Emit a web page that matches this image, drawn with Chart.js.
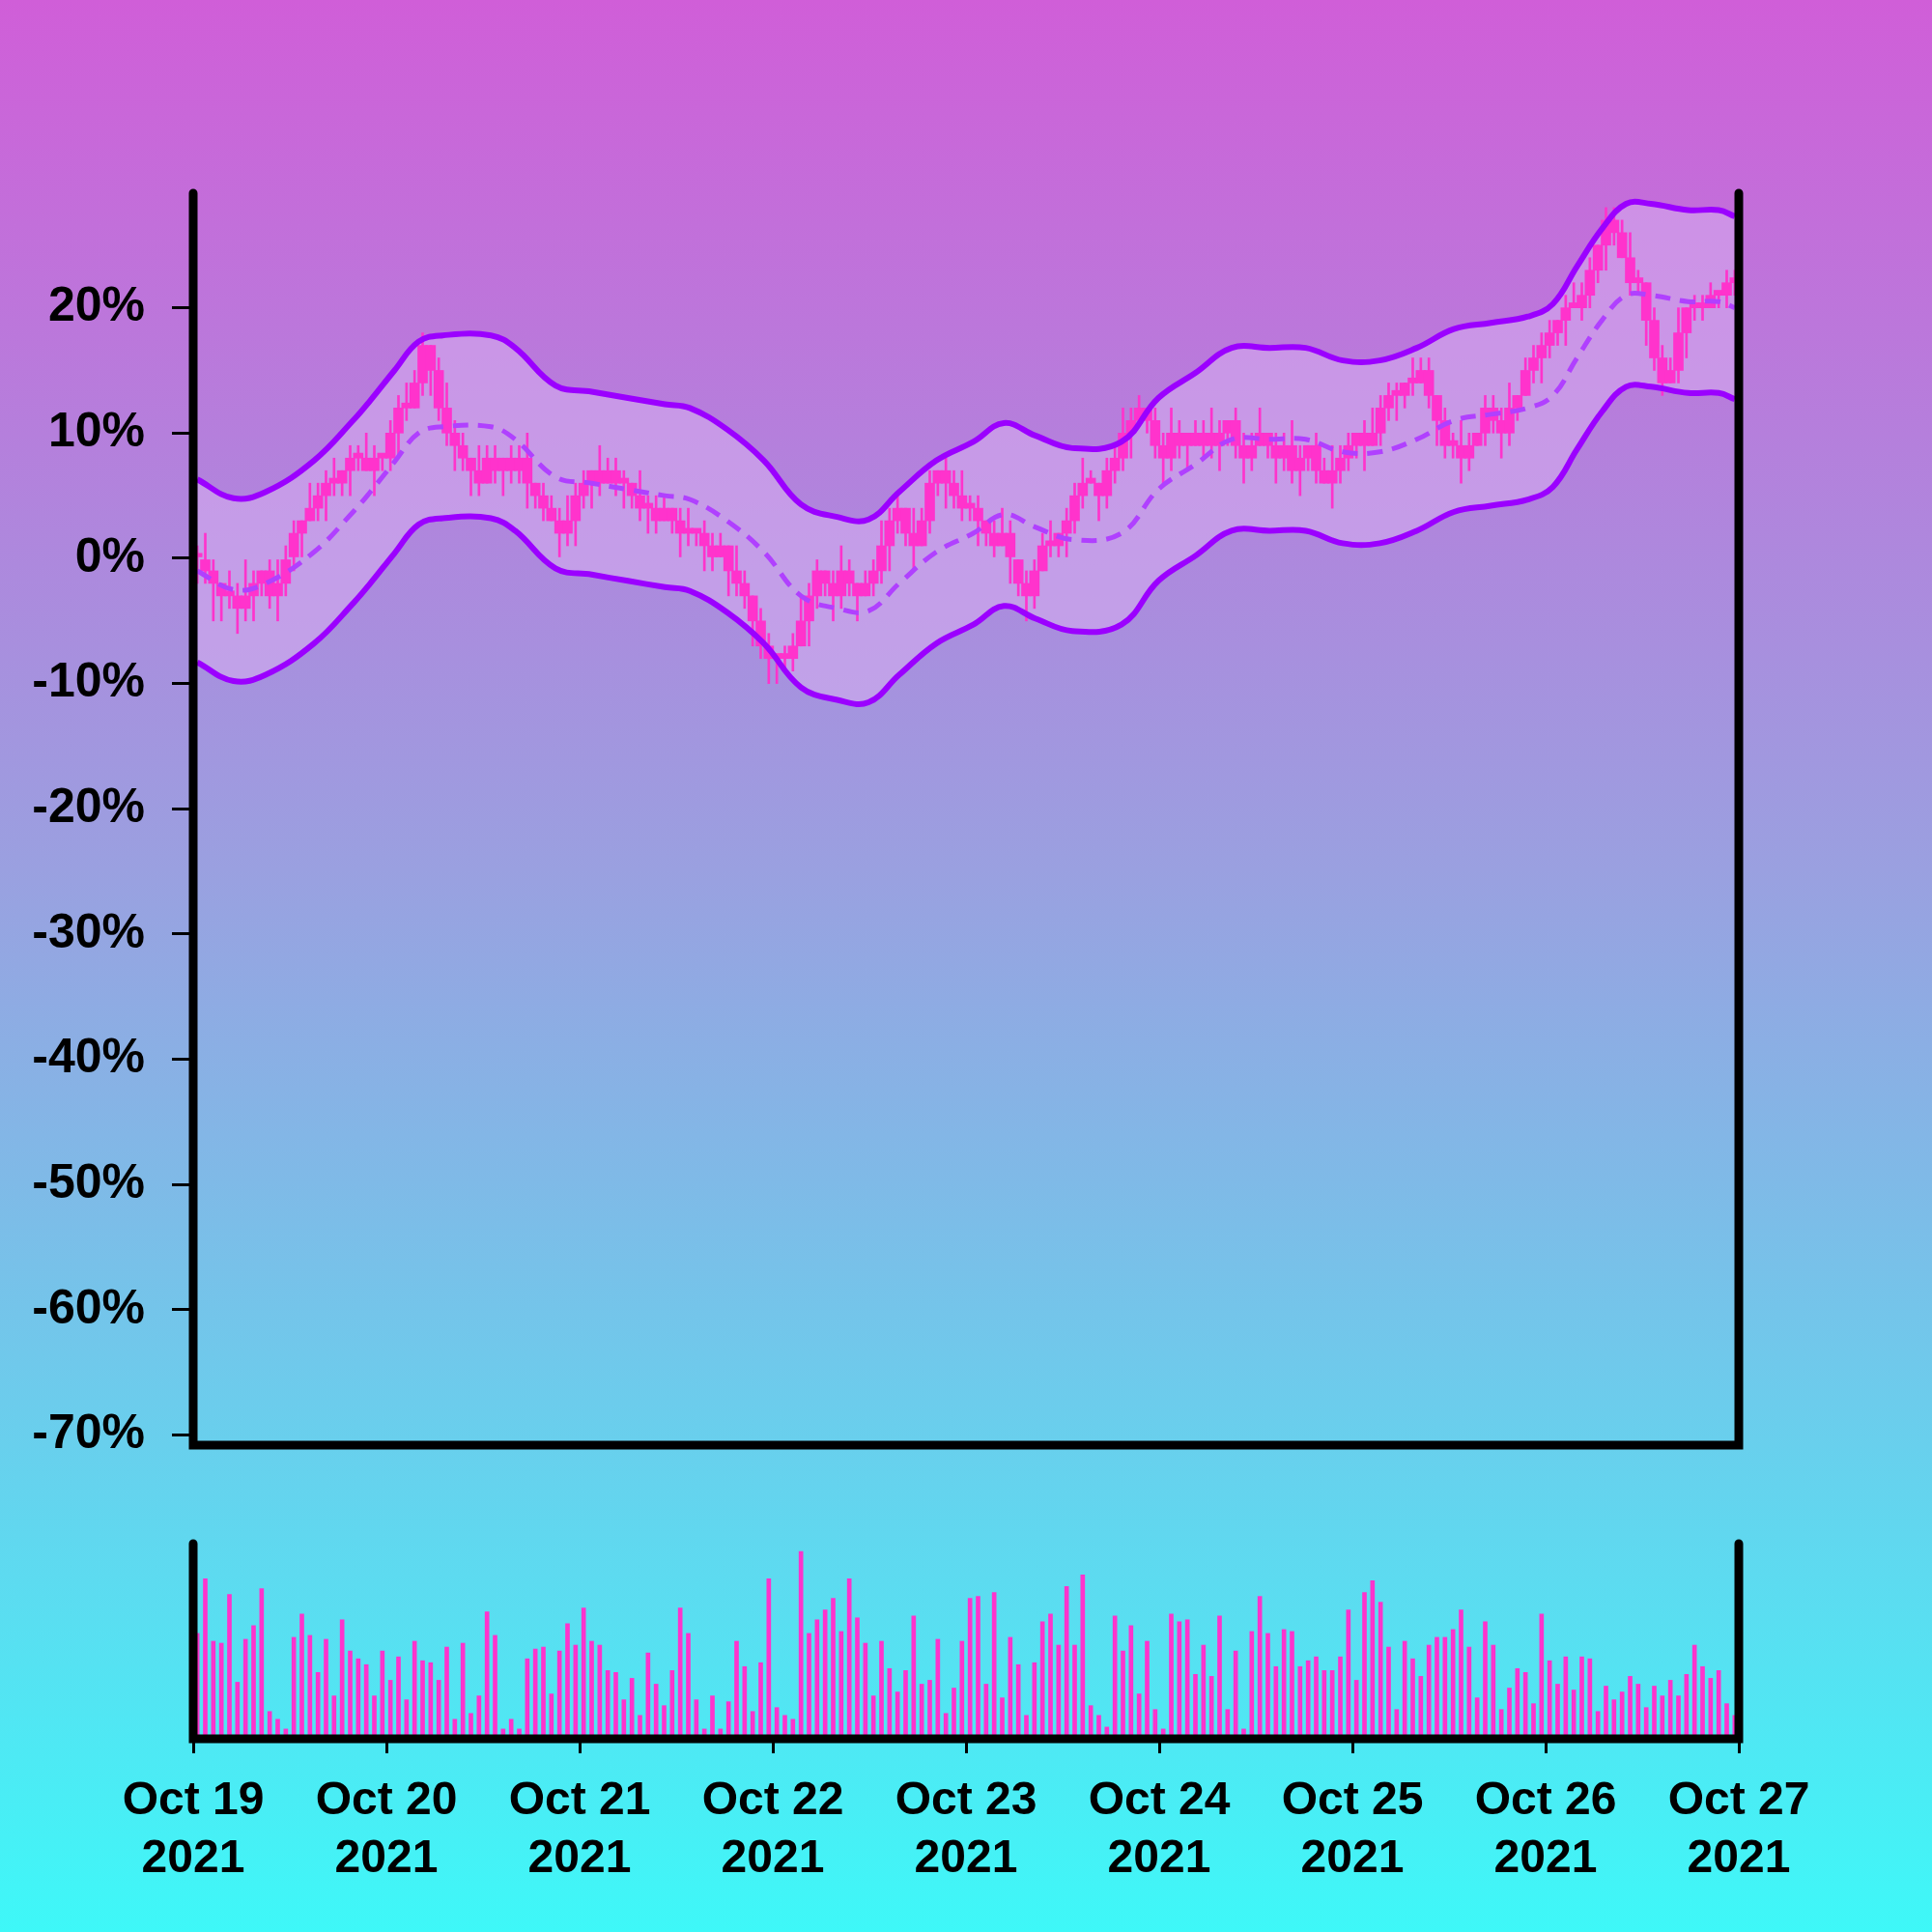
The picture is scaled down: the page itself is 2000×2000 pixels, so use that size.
<!DOCTYPE html>
<html><head><meta charset="utf-8">
<script src="https://cdn.jsdelivr.net/npm/chart.js@4/dist/chart.umd.min.js"></script>
<style>
html,body{margin:0;padding:0;width:2000px;height:2000px;overflow:hidden;background:linear-gradient(to bottom,#D05ED8 0%,#9AA0E0 45%,#3EF8F8 100%);}
#c1{position:absolute;left:0;top:0;width:2000px;height:1554px}
#c2{position:absolute;left:0;top:1500px;width:2000px;height:500px}
</style></head><body>
<canvas id="c2" width="2000" height="500"></canvas>
<canvas id="c1" width="2000" height="1554"></canvas>
<script>
const dayLabels=[["Oct 19","2021"],["Oct 20","2021"],["Oct 21","2021"],["Oct 22","2021"],["Oct 23","2021"],["Oct 24","2021"],["Oct 25","2021"],["Oct 26","2021"],["Oct 27","2021"]];
const yTicks=[-70,-60,-50,-40,-30,-20,-10,0,10,20];
// hourly closes (%)
const closes=[0,-1,-2,-3,-3,-4,-3,-2,-1,-3,-2,0,2,3,4,5,6,6,7,8,8,7,8,8,
10,12,12,14,17,15,12,10,9,8,7,6,8,7,8,7,8,6,5,4,3,2,3,5,
6,7,6,7,6,6,5,4,4,3,4,3,2,2,2,1,0,1,-1,-2,-3,-5,-7,-8,
-8,-8,-7,-5,-3,-1,-2,-3,-1,-2,-3,-2,-1,1,3,4,2,1,3,6,7,6,5,4,
4,3,2,1,2,0,-2,-3,-1,1,1,2,3,5,6,6,5,7,8,10,11,12,11,9,
8,10,9,10,9,10,9,10,11,9,8,9,10,9,8,9,7,8,9,7,6,7,8,9,
10,9,10,12,13,13,14,14,15,13,11,9,9,8,9,10,12,11,10,12,13,15,16,17,
18,19,20,20,21,23,25,27,26,24,22,22,19,16,14,15,18,20,20,20,21,21,22,22];
// wick extensions above / below body (%)
const wickUp=[1,2,1,0,2,1,3,1,0,1,2,1,1,0,2,1,1,2,0,1,1,2,1,0,
1,1,2,1,1,0,1,2,1,1,0,2,1,1,0,1,1,2,0,1,1,1,2,1,
1,0,2,1,1,1,0,2,1,1,1,0,1,2,0,1,1,1,0,2,1,0,1,1,
0,1,1,2,1,1,0,1,2,1,0,1,1,2,1,1,0,2,1,1,0,1,1,2,
1,1,0,1,2,1,0,1,1,1,2,0,1,1,2,1,0,1,1,2,1,1,0,1,
1,2,1,0,1,1,2,1,0,1,1,1,2,0,1,1,2,1,0,1,1,2,1,1,
0,1,2,1,1,1,0,2,1,1,0,1,1,2,1,0,1,1,1,2,0,1,1,1,
1,0,1,2,1,1,0,1,1,1,2,1,0,1,1,1,2,0,1,1,1,0,1,1];
const wickDown=[2,1,3,2,1,2,1,2,1,1,2,1,1,2,0,1,2,1,1,2,1,0,2,1,
1,2,1,0,1,2,1,1,2,1,2,1,0,1,2,1,1,2,1,1,0,2,1,2,
1,2,1,0,1,2,1,1,2,1,0,1,2,1,1,2,1,0,2,1,1,2,1,2,
2,1,1,0,2,1,1,2,1,1,2,0,1,1,2,1,1,2,0,1,1,2,1,1,
1,2,1,1,0,2,1,2,1,0,1,1,2,1,1,0,2,1,1,1,2,0,1,1,
2,1,1,2,0,1,1,2,1,1,2,1,0,1,2,1,1,2,1,1,0,2,1,1,
1,2,0,1,1,2,1,1,0,1,2,1,1,2,1,0,1,1,2,1,1,0,1,2,
1,1,2,0,1,1,1,2,1,0,1,1,2,1,1,0,1,2,1,1,0,1,1,1];
const volumes=[54,82,50,49,74,29,51,58,77,14,10,5,52,64,53,34,51,22,61,45,41,38,22,45,
30,42,20,50,40,39,30,47,10,49,13,22,65,53,5,10,5,41,46,47,23,45,59,48,
67,50,48,35,34,20,31,12,44,28,17,35,67,54,20,5,22,5,19,50,37,14,39,82,
16,12,10,96,54,61,66,72,55,82,62,49,22,50,36,24,35,63,28,30,51,13,26,50,
72,73,28,75,21,52,38,12,39,60,64,48,78,48,84,17,12,6,63,45,58,23,50,15,
5,64,60,61,33,48,32,63,15,45,5,55,73,54,37,56,55,37,40,42,35,35,42,66,
30,75,81,70,47,15,50,41,32,48,52,52,56,66,47,21,60,48,15,26,36,34,18,64,
40,28,42,25,42,41,14,27,20,24,32,28,16,27,22,30,22,33,48,37,31,35,18,12];
// Bollinger middle (%) sampled at hours
const midHours=[0.5,5,9,15,20,22,25,28,31,37,40,45,49.5,54,58.6,61.7,66.3,70.9,75.5,80,83.9,87.7,92.3,96.9,100.7,104.6,109.2,115.3,119.9,124.5,129,133.7,138.2,142.8,147.4,152,156.6,161.2,165.8,168.9,171.9,175,178,181.1,185.7,189.5,191.5];
const midVals=[-1,-2.5,-2,0.5,3.8,5.3,7.7,10,10.5,10.5,9.5,6.5,6,5.5,5,4.7,3,0.5,-3,-4,-4.2,-2,0.5,2,3.5,2.5,1.5,2,5.5,7.5,9.5,9.5,9.5,8.5,8.5,9.5,11,11.5,12,13,16,19,21,21,20.5,20.5,20];
const bandHalfWidth=7.3;

const FONT='"Liberation Sans", Arial, sans-serif';
const bodies=[],wicks=[];
closes.forEach((c,i)=>{const o=i?closes[i-1]:0;const x=i+0.5;
  bodies.push({x,y:[o,c===o?c+0.4:c]});
  wicks.push({x,y:[Math.min(o,c)-wickDown[i],Math.max(o,c)+wickUp[i]]});});
const mid=midHours.map((h,i)=>({x:h,y:midVals[i]}));
const up=midHours.map((h,i)=>({x:h,y:midVals[i]+bandHalfWidth}));
const lo=midHours.map((h,i)=>({x:h,y:midVals[i]-bandHalfWidth}));

const frame=(lw)=>({id:'frame',afterDraw(ch){const a=ch.chartArea,c=ch.ctx;c.save();c.strokeStyle='#000';c.lineWidth=lw;c.lineCap='round';
  c.beginPath();c.moveTo(a.left,a.top);c.lineTo(a.left,a.bottom);c.lineTo(a.right,a.bottom);c.lineTo(a.right,a.top);c.stroke();c.restore();}});

const c1=new Chart(document.getElementById('c1'),{type:'bar',
 data:{datasets:[
  {type:'line',data:up,borderColor:'#9B00FF',borderWidth:6,pointRadius:0,tension:0.4,fill:'+1',backgroundColor:'rgba(215,175,240,0.55)',order:1},
  {type:'line',data:lo,borderColor:'#9B00FF',borderWidth:6,pointRadius:0,tension:0.4,fill:false,order:1},
  {type:'line',data:mid,borderColor:'#B040FF',borderWidth:5,borderDash:[16,10],pointRadius:0,tension:0.4,fill:false,order:0},
  {data:wicks,backgroundColor:'#FF33CC',barThickness:2,grouped:false,order:3},
  {data:bodies,backgroundColor:'#FF33CC',barThickness:10,grouped:false,order:2}
 ]},
 options:{responsive:false,animation:false,layout:{padding:{left:0,right:200,top:200,bottom:0}},
  plugins:{legend:{display:false},tooltip:{enabled:false},filler:{drawTime:'beforeDatasetsDraw'}},
  scales:{x:{type:'linear',min:0,max:192,offset:false,display:false},
   y:{min:-70.8,max:29.15,afterFit(s){s.width=200;},
    afterBuildTicks(s){s.ticks=yTicks.map(v=>({value:v}));},
    border:{display:false},grid:{drawOnChartArea:false,color:'#000',lineWidth:3,tickLength:22},
    ticks:{color:'#000',padding:28,font:{family:FONT,size:50,weight:'bold'},callback:v=>v+'%'}}}},
 plugins:[frame(9)]});
// align bottom of plot to y=1499
const diff=1499-c1.chartArea.bottom;
if(Math.abs(diff)>0.5){const cv=document.getElementById('c1');const h=1554+diff;cv.height=h;cv.style.height=h+'px';c1.resize(2000,h);}

new Chart(document.getElementById('c2'),{type:'bar',
 data:{datasets:[{data:volumes.map((v,i)=>({x:i+0.5,y:v})),backgroundColor:'#FF33CC',barThickness:4}]},
 options:{responsive:false,animation:false,layout:{padding:{left:200,right:200,top:98,bottom:0}},
  plugins:{legend:{display:false},tooltip:{enabled:false}},
  scales:{y:{min:0,max:100,display:false},
   x:{type:'linear',min:0,max:192,offset:false,afterFit(s){s.height=200;},
    afterBuildTicks(s){s.ticks=dayLabels.map((l,i)=>({value:i*24}));},
    border:{display:false},grid:{drawOnChartArea:false,offset:false,color:'#000',lineWidth:3,tickLength:15},
    ticks:{color:'#000',padding:20,maxRotation:0,autoSkip:false,font:{family:FONT,size:48,weight:'bold',lineHeight:1.25},callback:(v)=>dayLabels[Math.round(v/24)]}}}},
 plugins:[frame(9)]});
</script></body></html>
